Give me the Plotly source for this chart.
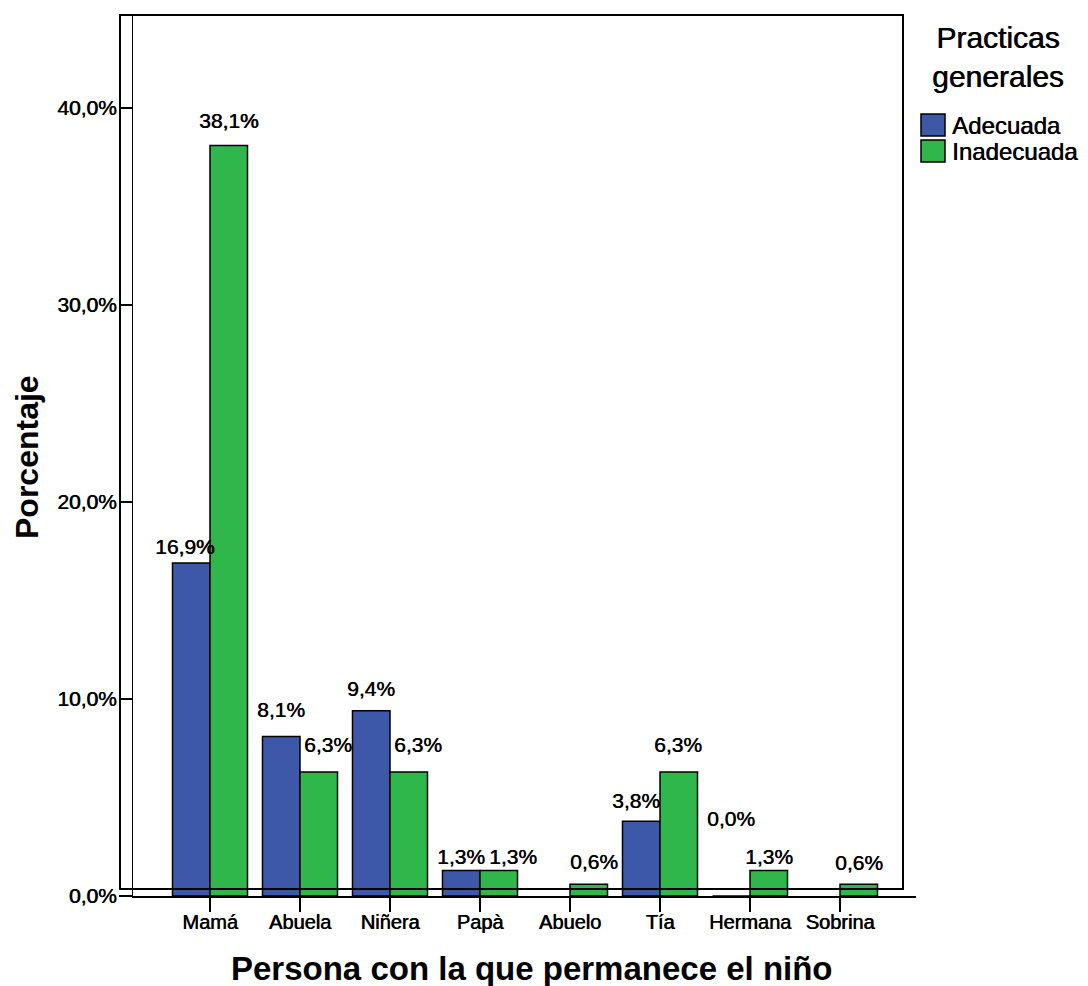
import plotly.graph_objects as go

# --- data -------------------------------------------------------------
categories = ["Mamá", "Abuela", "Niñera", "Papà", "Abuelo", "Tía", "Hermana", "Sobrina"]
series_names = ["Adecuada", "Inadecuada"]
adecuada = [16.9, 8.1, 9.4, 1.3, None, 3.8, 0.0, None]
inadecuada = [38.1, 6.3, 6.3, 1.3, 0.6, 6.3, 1.3, 0.6]
y_ticks = [0, 10, 20, 30, 40]
y_tick_labels = ["0,0%", "10,0%", "20,0%", "30,0%", "40,0%"]
legend_title = ["Practicas", "generales"]
x_title = "Persona con la que permanece el niño"
y_title = "Porcentaje"

# --- style ------------------------------------------------------------
colors = ["#3E58A9", "#30B74B"]
FONT = "Arial, Liberation Sans, sans-serif"
HEAVY = "0.6px 0px 0px black"               # slight thickening of strokes
W, H = 1088, 986
PL, PR, PT, PB = 133, 916, 15, 896          # plot area in pixels
BARGAP = 1 - 75 / 90
Y_MAX = 44.72
X_RANGE = [-0.8556, 7.8444]

# nudges (dx, dy) in px for each value label, measured from the bar top
label_offsets = [
    [(-6, 17), (0, 27), (0, 22), (0, 14), None, (-5, 21), (0, 78), None],
    [(0, 25), (9, 27), (9, 27), (14, 14), (5, 23), (-1, 27), (0, 14), (0, 22)],
]


def px_x(px):
    return (px - PL) / (PR - PL)


def px_y(py):
    return (PB - py) / (PB - PT)


def pct(v):
    return f"{v:.1f}".replace(".", ",") + "%"


fig = go.Figure()
for name, vals, col in zip(series_names, [adecuada, inadecuada], colors):
    fig.add_trace(go.Bar(
        x=categories, y=vals, name=name,
        marker=dict(color=col, line=dict(color="black", width=1.5)),
        showlegend=False, hoverinfo="x+y",
    ))

annotations = []
half = (1 - BARGAP) / 4
for s, vals in enumerate([adecuada, inadecuada]):
    sign = -1 if s == 0 else 1
    for i, v in enumerate(vals):
        off = label_offsets[s][i]
        if v is None or off is None:
            continue
        annotations.append(dict(
            x=i + sign * half, y=v, xref="x", yref="y",
            text=pct(v), showarrow=False,
            xanchor="center", yanchor="middle",
            xshift=off[0], yshift=off[1],
            font=dict(family=FONT, size=21, color="black", shadow=HEAVY),
        ))

# axis titles
annotations.append(dict(
    x=px_x(532), y=px_y(968), xref="paper", yref="paper",
    text=f"<b>{x_title}</b>", showarrow=False,
    xanchor="center", yanchor="middle",
    font=dict(family=FONT, size=33, color="black"),
))
annotations.append(dict(
    x=px_x(27), y=px_y(457), xref="paper", yref="paper",
    text=f"<b>{y_title}</b>", showarrow=False, textangle=-90,
    xanchor="center", yanchor="middle",
    font=dict(family=FONT, size=32, color="black"),
))

# legend: title, swatches and names
annotations.append(dict(
    x=px_x(998), y=px_y(57), xref="paper", yref="paper",
    text="<br>".join(legend_title), showarrow=False,
    xanchor="center", yanchor="middle", align="center",
    font=dict(family=FONT, size=30, color="black", shadow=HEAVY),
))

shapes = []
for k, (name, col) in enumerate(zip(series_names, colors)):
    top = 114 + k * 26
    shapes.append(dict(
        type="rect", xref="paper", yref="paper",
        x0=px_x(921), x1=px_x(945), y0=px_y(top + 22), y1=px_y(top),
        fillcolor=col, line=dict(color="black", width=1.5),
    ))
    annotations.append(dict(
        x=px_x(950), y=px_y(top + 11), xref="paper", yref="paper",
        text=name, showarrow=False, xanchor="left", yanchor="middle",
        font=dict(family=FONT, size=24, color="black", shadow=HEAVY),
    ))

# outer frame of the chart
shapes.append(dict(
    type="rect", xref="paper", yref="paper", layer="above",
    x0=px_x(120), x1=px_x(903), y0=px_y(889), y1=px_y(15),
    line=dict(color="black", width=2), fillcolor="rgba(0,0,0,0)",
))

fig.update_layout(
    width=W, height=H, autosize=False,
    margin=dict(l=PL, r=W - PR, t=PT, b=H - PB, pad=0),
    paper_bgcolor="white", plot_bgcolor="white",
    barmode="group", bargap=BARGAP, bargroupgap=0,
    font=dict(family=FONT, color="black"),
    annotations=annotations, shapes=shapes,
    xaxis=dict(
        range=X_RANGE, showgrid=False, zeroline=False,
        showline=True, linecolor="black", linewidth=1.5,
        ticks="outside", ticklen=14, tickwidth=1.5, tickcolor="black",
        ticklabelstandoff=-7,
        tickfont=dict(family=FONT, size=20, color="black", shadow=HEAVY),
    ),
    yaxis=dict(
        range=[0, Y_MAX], showgrid=False, zeroline=False,
        showline=True, linecolor="black", linewidth=1.2,
        ticks="outside", ticklen=13, tickwidth=1.5, tickcolor="black",
        ticklabelstandoff=-2,
        tickvals=y_ticks, ticktext=y_tick_labels,
        tickfont=dict(family=FONT, size=21, color="black", shadow=HEAVY),
    ),
)

fig.write_html("out.html")
